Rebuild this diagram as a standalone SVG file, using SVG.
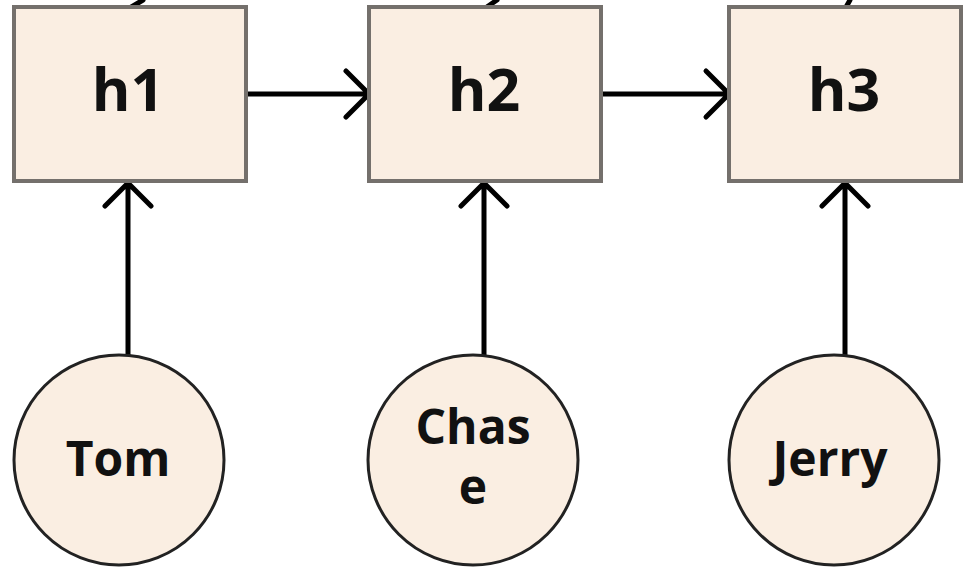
<svg xmlns="http://www.w3.org/2000/svg" width="980" height="580" viewBox="0 0 980 580">
<style>
.box{fill:#faeee2;stroke:#74706c;stroke-width:4}
.cir{fill:#faeee2;stroke:#222;stroke-width:3}
.t{font-family:"Open Sans","DejaVu Sans",sans-serif;font-weight:bold;fill:#111;text-anchor:middle}
.big{font-size:59px}
.sm{font-size:48px}
.c{fill:none;stroke:#000;stroke-width:5;stroke-linecap:round;stroke-linejoin:round}
</style>
<rect width="980" height="580" fill="#fff"/>
<g id="connectors">
<path class="c" d="M128,9 L143,0"/>
<path class="c" d="M484,9 L497,0"/>
<path class="c" d="M845,9 L850,0"/>
<path class="c" d="M247,94 L368,94 M346,71 L369,94 L346,117"/>
<path class="c" d="M601,94 L728,94 M706,71 L729,94 L706,117"/>
<path class="c" d="M128,355 L128,183 M105,206 L128,183 L151,206"/>
<path class="c" d="M484,355 L484,183 M461,206 L484,183 L507,206"/>
<path class="c" d="M845,355 L845,183 M822,206 L845,183 L868,206"/>
</g>
<g id="h1"><rect class="box" x="14" y="7" width="232" height="174"/><text class="t big" x="128" y="111">h1</text></g>
<g id="h2"><rect class="box" x="369" y="7" width="232" height="174"/><text class="t big" x="484" y="111">h2</text></g>
<g id="h3"><rect class="box" x="729" y="7" width="232" height="174"/><text class="t big" x="844" y="111">h3</text></g>
<g id="tom"><circle class="cir" cx="119" cy="460" r="105"/><text class="t sm" x="118" y="476">Tom</text></g>
<g id="chase"><circle class="cir" cx="473" cy="460" r="105"/><text class="t sm" x="473" y="444">Chas</text><text class="t sm" x="473" y="504">e</text></g>
<g id="jerry"><circle class="cir" cx="834" cy="460" r="105"/><text class="t sm" x="830" y="476">Jerry</text></g>
</svg>
